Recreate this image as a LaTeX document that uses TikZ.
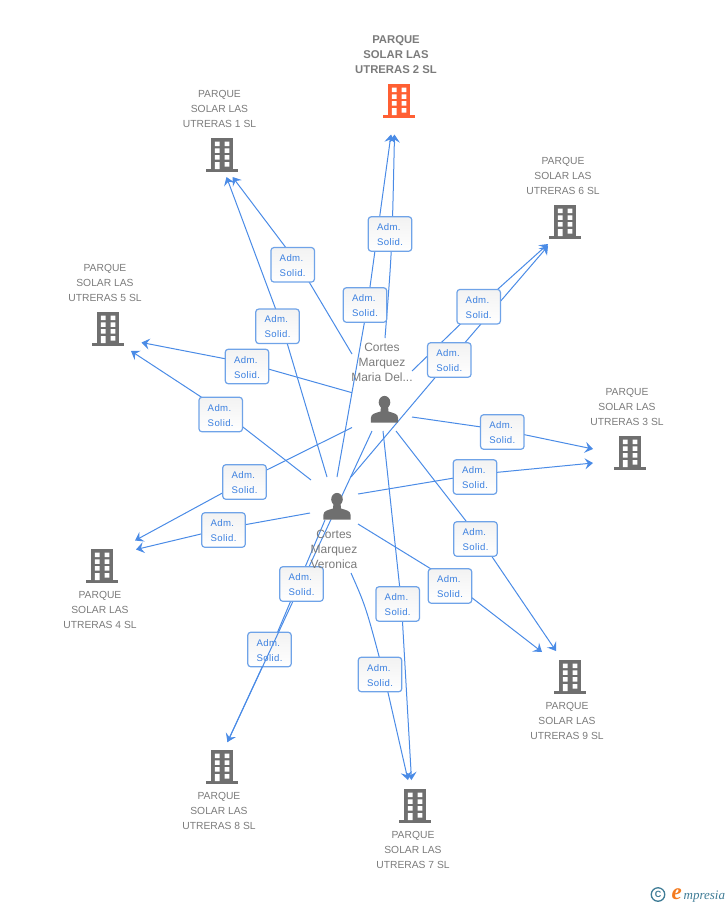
\documentclass[tikz,border=0pt]{standalone}
\usepackage{fontspec}
\setmainfont{Liberation Sans}
\newfontfamily\logofont{Liberation Serif}
\usetikzlibrary{arrows.meta}
\definecolor{linkblue}{HTML}{4A8BE6}
\definecolor{boxblue}{HTML}{6FA3E8}
\definecolor{txtblue}{HTML}{3B80E0}
\definecolor{iconrey}{HTML}{6F6F6F}
\definecolor{lblgrey}{HTML}{7B7B7B}
\definecolor{mainorange}{HTML}{FF5F33}
\definecolor{logoteal}{HTML}{3F7C96}
\definecolor{logoorange}{HTML}{F47B20}
\newcommand{\admsol}{\rule{0pt}{8.2pt}Adm.\\Solid.}
\tikzset{
  link/.style={draw=linkblue,line width=1pt},
  arrowlink/.style={link,-{Stealth[length=8pt,width=11pt,inset=3pt]}},
  relbox/.style={draw=boxblue,line width=1.2pt,rounded corners=3pt,top color=white!95!black,bottom color=white,
    minimum width=43.5pt,minimum height=34.5pt,inner sep=0pt,align=left,text=txtblue,
    font=\fontsize{9.6}{15}\selectfont\addfontfeatures{LetterSpace=4}},
  corp/.style={text=lblgrey,align=center,inner sep=0pt,font=\fontsize{10.3}{15}\selectfont},
  corpmain/.style={text=lblgrey,align=center,inner sep=0pt,font=\fontsize{11.3}{15}\selectfont\bfseries},
  persontxt/.style={text=lblgrey,align=center,inner sep=0pt,font=\fontsize{12}{15}\selectfont},
  pics/building/.style={code={
    \fill[#1] (-11,0) rectangle (11,31);
    \fill[#1] (-16,31) rectangle (16,34);
    \fill[white] (-7.2,3.5) rectangle (-2.4,8) (2.6,3.5) rectangle (7.4,8)
      (-7.2,10.3) rectangle (-2.4,14.8) (2.6,10.3) rectangle (7.4,14.8)
      (-7.2,17) rectangle (-2.4,21.5) (2.6,17) rectangle (7.4,21.5)
      (-7.2,24) rectangle (-2.4,31) (2.6,24) rectangle (7.4,28.5);
  }},
  pics/person/.style={code={
    \fill[iconrey] (0,-7.7) ellipse (5.8 and 6.4);
    \fill[iconrey] (-13.6,12.7) -- (-13.6,8) .. controls (-13.6,3.5) and (-9,3.2) .. (-4,1.5) -- (-3.5,-4) -- (3.5,-4) -- (4,1.5)
       .. controls (9,3.2) and (13.6,3.5) .. (13.6,8) -- (13.6,12.7) -- cycle;
  }}
}
\begin{document}
\begin{tikzpicture}[x=1pt,y=-1pt]
\useasboundingbox (0,0) rectangle (728,905);
% connector ends and the points where they pass behind the boxes
\foreach \n/\x/\y in {
 mA/385/338, vA/337/477, tA/394.5/134.5, tB/391/134.5, jB/367.5/305,
 mC/352/354, vC/327/477, tC/232.5/177, tD/226.5/177, jC/299/265, jD/282/326,
 mE/352/392.7, vE/311/480, tE/141.5/342.5, tF/131/351, jE/247/363, jF/221/410,
 mG/352/427.5, vG/310/513, tG/135/540.5, tH/136/549.5, jG/244.5/481, jH/224/528.5,
 mI/412/371, vI/351/477, tI/548/244, tJ/548/246, jI/478/307, jJ/450/360,
 mK/412/417, vK/358/494, tK/593/449, tL/593/463, jK/502/430, jL/475/474.5,
 mM/396/431, vM/358/524, tM/556/651, tN/542/652, jM/480/539, jN/449/580,
 mO/383/431, vO/351/573, tO/411.5/780, tP/408/780, jO/401.5/604, jP/384/675,
 mQ/372/431, vQ/325/520, tQ/227.5/742, jQ/301/584, jR/270/650}
 {\coordinate (\n) at (\x,\y);}

% connectors
\draw[arrowlink] (mA) .. controls (392,250) .. (tA);
\draw[arrowlink] (vA) -- (jB) -- (tB);
\draw[arrowlink] (mC) -- (jC) -- (tC);
\draw[arrowlink] (vC) -- (jD) -- (tD);
\draw[arrowlink] (mE) -- (jE) -- (tE);
\draw[arrowlink] (vE) -- (jF) -- (tF);
\draw[arrowlink] (mG) -- (jG) -- (tG);
\draw[arrowlink] (vG) -- (jH) -- (tH);
\draw[arrowlink] (mI) -- (jI) -- (tI);
\draw[arrowlink] (vI) -- (jJ) -- (tJ);
\draw[arrowlink] (mK) -- (jK) -- (tK);
\draw[arrowlink] (vK) -- (jL) -- (tL);
\draw[arrowlink] (mM) -- (jM) -- (tM);
\draw[arrowlink] (vM) -- (jN) -- (tN);
\draw[arrowlink] (mO) -- (jO) -- (tO);
\draw[arrowlink] (vO) .. controls (366,607) .. (jP) -- (tP);
\draw[link] (vQ) -- (jR) -- (tQ);

% this box lies under the line that follows
\node[relbox] (bR) at (269.5,649.5) {\admsol};
\draw[arrowlink] (mQ) -- (jQ) -- (tQ);

% relation boxes
\node[relbox] (bA) at (390,234) {\admsol};
\node[relbox] (bB) at (365,305) {\admsol};
\node[relbox] (bC) at (292.7,264.8) {\admsol};
\node[relbox] (bD) at (277.5,326.3) {\admsol};
\node[relbox] (bE) at (247,366.5) {\admsol};
\node[relbox] (bF) at (220.7,414.5) {\admsol};
\node[relbox] (bG) at (244.5,482) {\admsol};
\node[relbox] (bH) at (223.5,530) {\admsol};
\node[relbox] (bI) at (478.7,306.7) {\admsol};
\node[relbox] (bJ) at (449.3,360) {\admsol};
\node[relbox] (bK) at (502.3,432) {\admsol};
\node[relbox] (bL) at (475,477) {\admsol};
\node[relbox] (bM) at (475.5,539) {\admsol};
\node[relbox] (bN) at (450,586) {\admsol};
\node[relbox] (bO) at (397.7,604) {\admsol};
\node[relbox] (bP) at (380,674.5) {\admsol};
\node[relbox] (bQ) at (301.5,584) {\admsol};

% buildings
\pic at (399,84) {building=mainorange};
\pic at (222,138) {building=iconrey};
\pic at (565,205) {building=iconrey};
\pic at (108,312) {building=iconrey};
\pic at (630,436) {building=iconrey};
\pic at (102,549) {building=iconrey};
\pic at (570,660) {building=iconrey};
\pic at (222,750) {building=iconrey};
\pic at (415,789) {building=iconrey};

% building labels
\node[corpmain] (l2) at (396,55) {PARQUE\\SOLAR LAS\\UTRERAS 2 SL};
\node[corp] (l1) at (219.5,109) {PARQUE\\SOLAR LAS\\UTRERAS 1 SL};
\node[corp] (l6) at (563,176) {PARQUE\\SOLAR LAS\\UTRERAS 6 SL};
\node[corp] (l5) at (105,283) {PARQUE\\SOLAR LAS\\UTRERAS 5 SL};
\node[corp] (l3) at (627,407) {PARQUE\\SOLAR LAS\\UTRERAS 3 SL};
\node[corp] (l4) at (100,610) {PARQUE\\SOLAR LAS\\UTRERAS 4 SL};
\node[corp] (l9) at (567,721) {PARQUE\\SOLAR LAS\\UTRERAS 9 SL};
\node[corp] (l8) at (219,811) {PARQUE\\SOLAR LAS\\UTRERAS 8 SL};
\node[corp] (l7) at (413,850) {PARQUE\\SOLAR LAS\\UTRERAS 7 SL};

% persons
\pic at (384.5,410) {person};
\pic at (337,507) {person};
\node[persontxt] (pM) at (382,362) {Cortes\\Marquez\\Maria Del...};
\node[persontxt] (pV) at (334,549) {Cortes\\Marquez\\Veronica};

% logo
\node[text=logoteal,draw=logoteal,line width=1.3pt,circle,minimum size=13.5pt,inner sep=0pt,font=\fontsize{9}{9}\selectfont\bfseries] (lc) at (658,894.5) {C};
\node[anchor=base west,inner sep=0pt,text=logoorange,font=\logofont\fontsize{23}{23}\selectfont\itshape\bfseries] (le) at (671.5,899.5) {e};
\node[anchor=base west,inner sep=0pt,text=logoteal,font=\logofont\fontsize{13}{13}\selectfont\itshape] (lm) at (683.5,899.5) {mpresia};
\end{tikzpicture}
\end{document}
